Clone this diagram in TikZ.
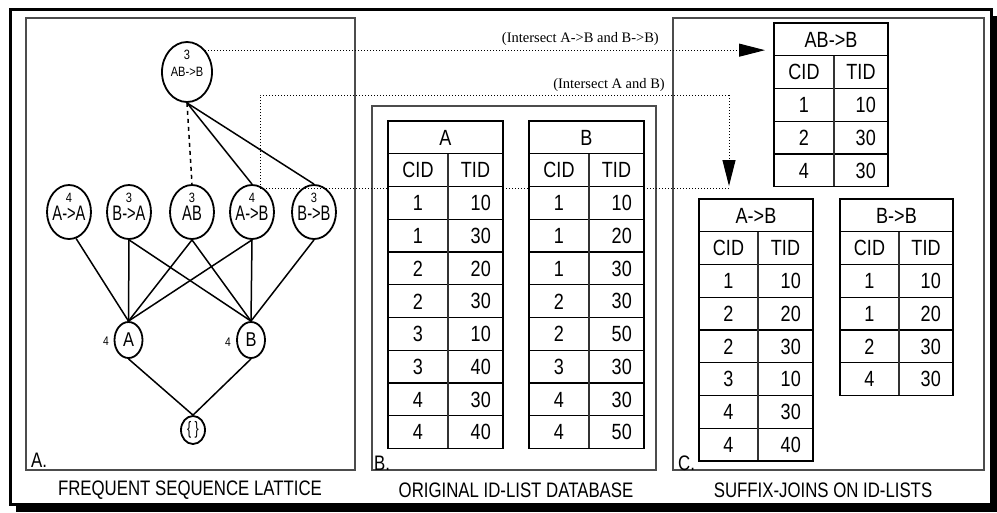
\documentclass[tikz,border=0pt]{standalone}
\usepackage{fontspec}
\setmainfont{Liberation Sans}
\newfontfamily\nar[FakeStretch=0.82]{Liberation Sans}
\newfontfamily\narc[FakeStretch=0.80]{Liberation Sans}
\newfontfamily\narx[FakeStretch=0.70]{Liberation Sans}
\newfontfamily\tms{Liberation Serif}
\usetikzlibrary{shapes.geometric,arrows.meta}
\newcommand\fsz[1]{\fontsize{#1}{#1}\selectfont}
\tikzset{
  ell/.style={draw, ellipse, line width=1.8pt, inner sep=0pt, fill=white},
  edge/.style={line width=1.5pt},
  dotline/.style={line width=1pt, dash pattern=on 1pt off 2pt},
  panel/.style={draw=black!70, line width=1.3pt},
  tline/.style={line width=1.2pt},
  capt/.style={font=\narc\fsz{21}, inner sep=0pt},
  tabtxt/.style={font=\nar\fsz{22}, inner sep=0pt},
  plabel/.style={font=\narc\fsz{21}, inner sep=0pt, anchor=west},
  cnt/.style={font=\nar\fsz{13.5}, inner sep=0pt},
  lbl/.style={font=\narx\fsz{21}, inner sep=0pt},
  note/.style={font=\tms\fsz{14.5}, anchor=east, inner sep=0pt},
  tri/.style={-{Triangle[length=26pt,width=13pt]}}
}
% #1 x0, #2 split, #3 x1, #4 y0, #5 title, #6 rows, #7 nrows, #8 name
\newcommand\idtab[8]{%
  \pgfmathsetmacro\ybot{#4+32.75*(#7+2)}%
  \pgfmathtruncatemacro\nlast{#7+1}%
  \fill[white] (#1,#4) rectangle (#3,\ybot);
  \foreach \k in {1,...,\nlast} {\draw[tline] (#1,{#4+32.75*\k}) -- (#3,{#4+32.75*\k});}
  \draw[tline, draw=black!80] (#2,{#4+32.75}) -- (#2,\ybot);
  \draw[tline] (#1,#4) rectangle (#3,\ybot);
  \node[tabtxt] (#8) at ({(#1+#3)/2},{#4+16.6}) {#5};
  \node[tabtxt] at ({(#1+#2)/2},{#4+32.75+16.6}) {CID};
  \node[tabtxt] at ({(#2+#3)/2},{#4+32.75+16.6}) {TID};
  \foreach \c/\t [count=\i] in {#6} {
    \node[tabtxt] at ({(#1+#2)/2},{#4+32.75*(\i+1)+16.6}) {\c};
    \node[tabtxt,anchor=east] at ({#3-12},{#4+32.75*(\i+1)+16.6}) {\t};
  }
}
\begin{document}
\begin{tikzpicture}[x=1pt,y=-1pt]
\useasboundingbox (0,0) rectangle (997,512);
% outer frame with shadow
\fill[black] (16,16) rectangle (997,512);
\draw[line width=3pt, fill=white] (10.5,9.5) rectangle (991.5,504.5);
% panels
\draw[panel] (26,18) rectangle (355,470);
\draw[panel] (372,106) rectangle (656,470);
\draw[panel] (673,18) rectangle (984,470);
% lattice nodes
\node[ell, minimum width=50pt, minimum height=60pt] (top) at (187,72) {};
\node[ell, minimum width=44pt, minimum height=54pt] (AtoA) at (69,212) {};
\node[ell, minimum width=44pt, minimum height=54pt] (BtoA) at (129,212) {};
\node[ell, minimum width=44pt, minimum height=54pt] (AB) at (192,212) {};
\node[ell, minimum width=44pt, minimum height=54pt] (AtoB) at (252,212) {};
\node[ell, minimum width=44pt, minimum height=54pt] (BtoB) at (314,212) {};
\node[ell, minimum width=28pt, minimum height=36pt] (A) at (128.5,340) {};
\node[ell, minimum width=28pt, minimum height=36pt] (B) at (251,340) {};
\node[ell, minimum width=24pt, minimum height=28pt] (E) at (193,430) {};
% lattice edges
\draw[edge, dash pattern=on 4pt off 4pt] (top.south) -- (AB.north);
\draw[edge] (top.south) -- (AtoB.north);
\draw[edge] (top.south) -- (BtoB.north);
\draw[edge] (AtoA.-75) -- (A.north);
\draw[edge] (BtoA.south) -- (A.north);
\draw[edge] (BtoA.south) -- (B.north);
\draw[edge] (AB.south) -- (A.north);
\draw[edge] (AB.south) -- (B.north);
\draw[edge] (AtoB.south) -- (A.north);
\draw[edge] (AtoB.south) -- (B.north);
\draw[edge] (BtoB.south) -- (B.north);
\draw[edge] (A.south) -- (E.north);
\draw[edge] (B.south) -- (E.north);
% lattice texts
\node[cnt] at (187,55) {3};
\node[cnt] at (187,72) {AB->B};
\node[cnt] at (69,198) {4};
\node[cnt] at (129,198) {3};
\node[cnt] at (192,198) {3};
\node[cnt] at (252,198) {4};
\node[cnt] at (314,198) {3};
\node[lbl] at (69,213) {A->A};
\node[lbl] at (129,213) {B->A};
\node[lbl] at (192,213) {AB};
\node[lbl] at (252,213) {A->B};
\node[lbl] at (314,213) {B->B};
\node[font=\nar\fsz{20}, inner sep=0pt] at (128.5,340) {A};
\node[font=\nar\fsz{20}, inner sep=0pt] at (251,340) {B};
\node[font=\nar\fsz{12.5}, inner sep=0pt] at (106,341) {4};
\node[font=\nar\fsz{12.5}, inner sep=0pt] at (228,342) {4};
\node[font=\narx\fsz{18}, inner sep=0pt] at (193,430) {\{ \}};
% dotted connectors
\coordinate (arr1) at (765,49);
\draw[dotline, tri] (top.50) -- (top.50 -| arr1);
\node[note] at (659,39) {(Intersect A->B and B->B)};
\coordinate (d1) at (260,188);
\coordinate (d2) at (260,95);
\coordinate (d3) at (729,95);
\coordinate (arr2) at (729,186);
\coordinate (d4) at (729,188);
\draw[dotline] (d1) -- (d2) -- (d3);
\draw[dotline, tri] (d3) -- (arr2);
\draw[dotline] (d1) -- (d4);
\node[note] at (665,85) {(Intersect A and B)};
% tables
\idtab{388}{448}{503}{121}{A}{1/10,1/30,2/20,2/30,3/10,3/40,4/30,4/40}{8}{tA}
\idtab{529}{589}{644}{121}{B}{1/10,1/20,1/30,2/30,2/50,3/30,4/30,4/50}{8}{tB}
\idtab{774}{834}{888}{23}{AB->B}{1/10,2/30,4/30}{3}{tABB}
\idtab{699}{758}{813}{199}{A->B}{1/10,2/20,2/30,3/10,4/30,4/40}{6}{tAB}
\idtab{840}{899}{953}{199}{B->B}{1/10,1/20,2/30,4/30}{4}{tBB}
% panel labels and captions
\node[plabel] at (31,460) {A.};
\node[plabel] at (374,463) {B.};
\node[plabel] at (678,463) {C.};
\node[capt] at (190,490) {FREQUENT SEQUENCE LATTICE};
\node[capt] at (516,490) {ORIGINAL ID-LIST DATABASE};
\node[capt] at (823,490) {SUFFIX-JOINS ON ID-LISTS};
\end{tikzpicture}
\end{document}
